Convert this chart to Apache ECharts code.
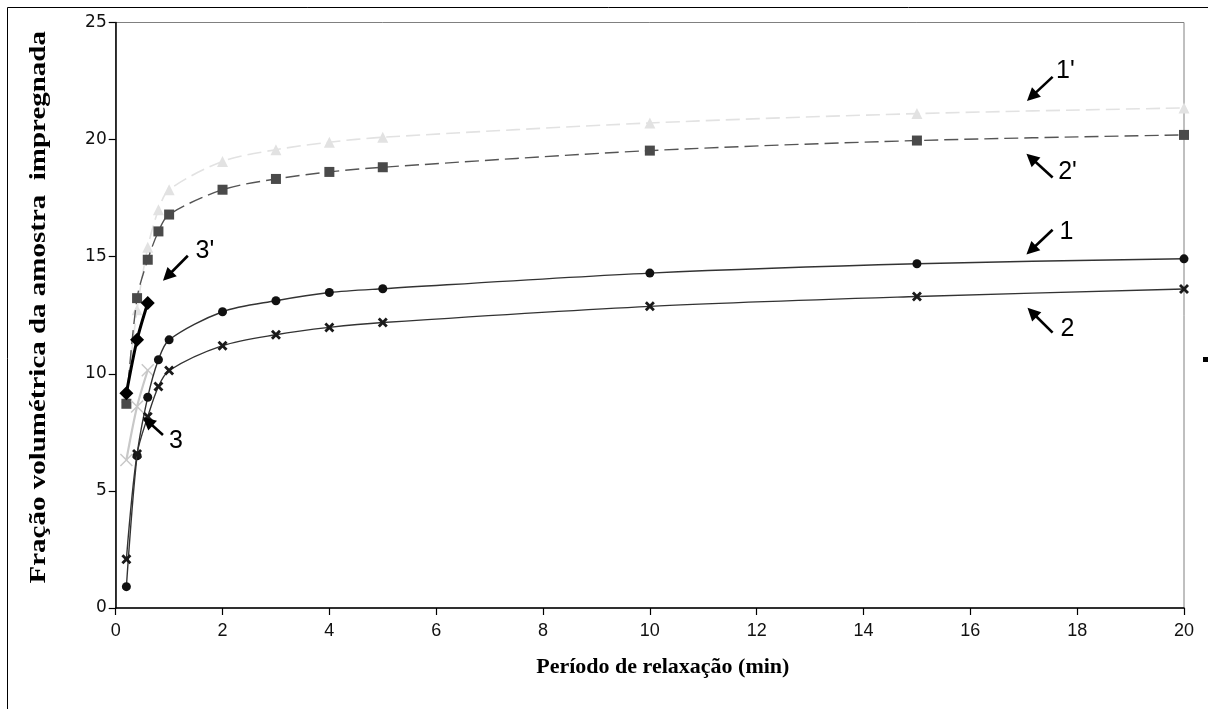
<!DOCTYPE html>
<html>
<head>
<meta charset="utf-8">
<script src="https://cdn.jsdelivr.net/npm/echarts@6/dist/echarts.min.js"></script>
<style>
html,body{margin:0;padding:0;background:#fff;}
#chart{width:1208px;height:709px;}
</style>
</head>
<body>
<div id="chart"></div>
<script>
// ---- data ----
const times = [0.2, 0.4, 0.6, 0.8, 1, 2, 3, 4, 5, 10, 15, 20];
const times3 = [0.2, 0.4, 0.6];
const serie1p = [9.0, 12.74, 15.4, 17.0, 17.86, 19.07, 19.57, 19.89, 20.1, 20.71, 21.11, 21.35]; // 1'
const serie2p = [8.72, 13.23, 14.87, 16.08, 16.8, 17.86, 18.32, 18.62, 18.82, 19.53, 19.96, 20.2]; // 2'
const serie1 = [0.91, 6.5, 9.0, 10.6, 11.45, 12.65, 13.12, 13.47, 13.63, 14.3, 14.7, 14.91]; // 1
const serie2 = [2.08, 6.58, 8.17, 9.46, 10.14, 11.2, 11.67, 11.98, 12.19, 12.88, 13.3, 13.62]; // 2
const serie3p = [9.17, 11.45, 13.02]; // 3'
const serie3 = [6.32, 8.6, 10.15];   // 3
const xTicks = [0, 2, 4, 6, 8, 10, 12, 14, 16, 18, 20];
const yTicks = [0, 5, 10, 15, 20, 25];
const xTitle = 'Período de relaxação (min)';
const yTitle = 'Fração volumétrica da amostra  impregnada';
// annotations: label, arrow tail, arrow tip, text position (data coords)
const annotations = [
  {text: "1'", tail: [17.54, 22.68], tip: [17.06, 21.65], at: [17.78, 22.91]},
  {text: "2'", tail: [17.54, 18.38], tip: [17.05, 19.40], at: [17.82, 18.63]},
  {text: "1",  tail: [17.54, 16.15], tip: [17.05, 15.09], at: [17.80, 16.07]},
  {text: "2",  tail: [17.54, 11.76], tip: [17.07, 12.82], at: [17.82, 11.92]},
  {text: "3'", tail: [1.35, 15.04],  tip: [0.885, 13.97], at: [1.67, 15.26]},
  {text: "3",  tail: [0.885, 7.39],  tip: [0.51, 8.16],   at: [1.13, 7.14]}
];

const pair = (xs, ys) => xs.map((x, i) => [x, ys[i]]);

const thickX = 'path://M0,2 L2,0 L5,3 L8,0 L10,2 L7,5 L10,8 L8,10 L5,7 L2,10 L0,8 L3,5 Z';
const thinX = 'path://M0,0.8 L0.8,0 L5,4.2 L9.2,0 L10,0.8 L5.8,5 L10,9.2 L9.2,10 L5,5.8 L0.8,10 L0,9.2 L4.2,5 Z';
const SM = 0.3;

const chart = echarts.init(document.getElementById('chart'));
const option = {
  animation: false,
  backgroundColor: '#ffffff',
  grid: {left: 115.7, right: 24, top: 22.5, bottom: 101, show: true, borderColor: '#808080', borderWidth: 1, backgroundColor: '#fff'},
  xAxis: {
    type: 'value', min: 0, max: 20, interval: 2,
    name: xTitle, nameLocation: 'middle', nameGap: 48,
    nameTextStyle: {fontFamily: 'Liberation Serif', fontWeight: 'bold', fontSize: 22, color: '#000', padding: [0, 0, 0, 26]},
    axisLine: {show: true, onZero: false, lineStyle: {color: '#000', width: 1.5}},
    axisTick: {show: true, inside: false, length: 7, lineStyle: {color: '#000', width: 1.2}},
    axisLabel: {margin: 14, fontFamily: 'Liberation Sans, Arial, sans-serif', fontSize: 18, color: '#111',
      formatter: v => xTicks.includes(v) ? String(v) : ''},
    splitLine: {show: false}
  },
  yAxis: {
    type: 'value', min: 0, max: 25, interval: 5,
    axisLine: {show: true, onZero: false, lineStyle: {color: '#000', width: 1.5}},
    axisTick: {show: true, inside: false, length: 7, lineStyle: {color: '#000', width: 1.2}},
    axisLabel: {margin: 9, fontFamily: 'DejaVu Sans, sans-serif', fontSize: 17, color: '#111',
      formatter: v => yTicks.includes(v) ? String(v) : ''},
    splitLine: {show: false}
  },
  series: [
    {name: "1'", type: 'line', data: pair(times, serie1p), smooth: SM,
      symbol: 'triangle', symbolSize: 11, itemStyle: {color: '#e2e2e2'},
      lineStyle: {color: '#e2e2e2', width: 1.6, type: [14, 6]}, z: 2},
    {name: "2'", type: 'line', data: pair(times, serie2p), smooth: SM,
      symbol: 'rect', symbolSize: 10, itemStyle: {color: '#4a4a4a'},
      lineStyle: {color: '#555', width: 1.4, type: [14, 6]}, z: 3},
    {name: "3", type: 'line', data: pair(times3, serie3), smooth: SM,
      symbol: thinX, symbolSize: 13, itemStyle: {color: '#c8c8c8'},
      lineStyle: {color: '#c8c8c8', width: 2.2}, z: 4},
    {name: "1", type: 'line', data: pair(times, serie1), smooth: SM,
      symbol: 'circle', symbolSize: 9, itemStyle: {color: '#111'},
      lineStyle: {color: '#333', width: 1.4}, z: 5},
    {name: "2", type: 'line', data: pair(times, serie2), smooth: SM,
      symbol: thickX, symbolSize: 10, itemStyle: {color: '#1a1a1a'},
      lineStyle: {color: '#333', width: 1.4}, z: 6},
    {name: "3'", type: 'line', data: pair(times3, serie3p), smooth: SM,
      symbol: 'diamond', symbolSize: 14, itemStyle: {color: '#000'},
      lineStyle: {color: '#000', width: 3}, z: 7}
  ]
};
chart.setOption(option);

// annotations drawn in pixel space converted from data coords
function drawAnnotations() {
  const els = [];
  annotations.forEach(a => {
    const t = chart.convertToPixel({gridIndex: 0}, a.tail);
    const p = chart.convertToPixel({gridIndex: 0}, a.tip);
    const c = chart.convertToPixel({gridIndex: 0}, a.at);
    const dx = p[0] - t[0], dy = p[1] - t[1];
    const L = Math.hypot(dx, dy), ux = dx / L, uy = dy / L;
    const headLen = 13, headW = 6.5;
    const bx = p[0] - ux * headLen, by = p[1] - uy * headLen;
    els.push({type: 'line', shape: {x1: t[0], y1: t[1], x2: bx + ux * 2, y2: by + uy * 2},
      style: {stroke: '#000', lineWidth: 2.6}, z: 100});
    els.push({type: 'polygon', shape: {points: [p, [bx - uy * headW, by + ux * headW], [bx + uy * headW, by - ux * headW]]},
      style: {fill: '#000'}, z: 100});
    els.push({type: 'text', x: c[0], y: c[1], style: {text: a.text, fontFamily: 'Liberation Sans, Arial, sans-serif',
      fontSize: 25, fill: '#000', align: 'center', verticalAlign: 'middle'}, z: 100});
  });
  // y axis title (stretched along its length like the original)
  const yMid = chart.convertToPixel({gridIndex: 0}, [0, 12.5]);
  els.push({type: 'text', x: 39, y: yMid[1] - 8, rotation: Math.PI / 2, scaleX: 1.26,
    style: {text: yTitle, fontFamily: 'Liberation Serif', fontWeight: 'bold', fontSize: 23, fill: '#000',
      align: 'center', verticalAlign: 'middle'}, z: 100});
  // outer frame of the picture and stray mark at right edge
  els.push({type: 'rect', shape: {x: 7.5, y: 7.5, width: 1300, height: 800}, style: {fill: 'none', stroke: '#000', lineWidth: 1}, z: 0, silent: true});
  els.push({type: 'rect', shape: {x: 1203, y: 357, width: 5, height: 5}, style: {fill: '#000'}, z: 100});
  chart.setOption({graphic: els});
}
drawAnnotations();
</script>
</body>
</html>
